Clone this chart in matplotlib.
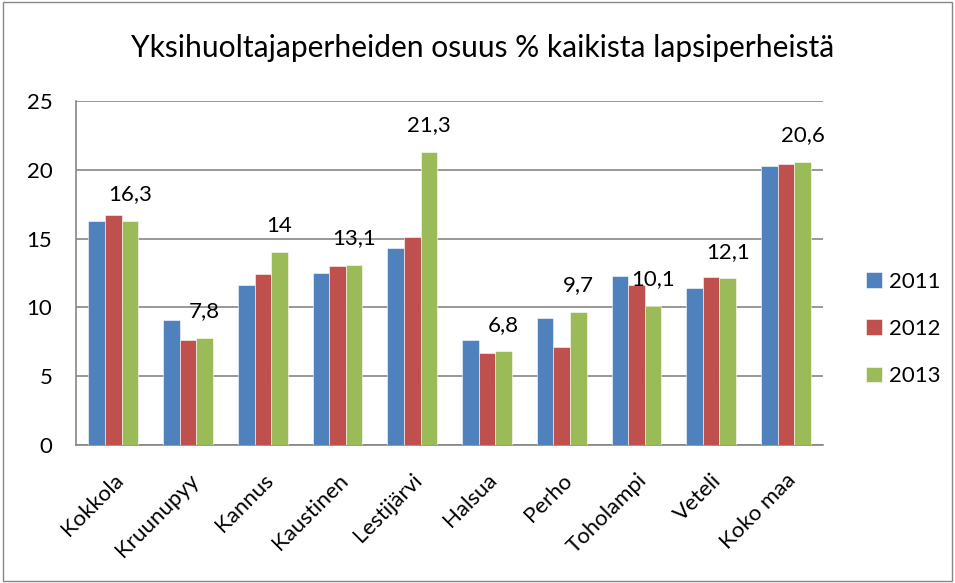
import numpy as np
import matplotlib
matplotlib.use("Agg")
import matplotlib.pyplot as plt
import matplotlib.transforms as mtransforms
from matplotlib.patches import Rectangle

plt.rcParams['font.family'] = ['Lato', 'DejaVu Sans']

# data
kunnat = ['Kokkola', 'Kruunupyy', 'Kannus', 'Kaustinen', 'Lestijärvi',
          'Halsua', 'Perho', 'Toholampi', 'Veteli', 'Koko maa']
v2011 = [16.3, 9.1, 11.6, 12.5, 14.3, 7.6, 9.2, 12.3, 11.4, 20.3]
v2012 = [16.7, 7.6, 12.4, 13.0, 15.1, 6.7, 7.1, 11.6, 12.2, 20.4]
v2013 = [16.3, 7.8, 14.0, 13.1, 21.3, 6.8, 9.7, 10.1, 12.1, 20.6]
vuodet = ['2011', '2012', '2013']
varit = ['#4f81bd', '#c0504d', '#9bbb59']

fig = plt.figure(figsize=(9.55, 5.83), dpi=100)
ax = fig.add_axes([0.0796, 0.2367, 0.7824, 0.5901])

# outer chart border
fig.patches.append(Rectangle((0.003, 0.003), 0.994, 0.994, transform=fig.transFigure,
                             fill=False, edgecolor='#868686', linewidth=1))

x = np.arange(len(kunnat))
w = 0.222
for i, (vals, lab, c) in enumerate(zip([v2011, v2012, v2013], vuodet, varit)):
    bars = ax.bar(x + (i - 1) * w, vals, w, color=c, label=lab,
                  edgecolor='white', linewidth=0.4, zorder=3)
    if i == 2:
        # data labels only for 2013
        for b, v in zip(bars, vals):
            txt = ('%.1f' % v).replace('.', ',')
            if txt.endswith(',0'):
                txt = txt[:-2]
            ax.annotate(txt, (b.get_x() + b.get_width() / 2, v), xytext=(0, 12),
                        textcoords='offset points', ha='center', va='bottom',
                        fontsize=16, zorder=4)

ax.set_xlim(-0.5, len(kunnat) - 0.5)
ax.set_ylim(0, 25)
ax.set_yticks([0, 5, 10, 15, 20, 25])
ax.yaxis.grid(True, color='#868686', linewidth=1.2, zorder=0)
ax.set_xticks(x)
ax.set_xticklabels(kunnat, rotation=45, ha='right', rotation_mode='anchor', fontsize=16)
shift = mtransforms.ScaledTranslation(5 / 100, 0, fig.dpi_scale_trans)
for t in ax.get_xticklabels():
    t.set_transform(t.get_transform() + shift)
ax.tick_params(axis='y', labelsize=16, length=0, pad=17)
ax.tick_params(axis='x', length=0, pad=18)
for s in ['top', 'right']:
    ax.spines[s].set_visible(False)
for s in ['left', 'bottom']:
    ax.spines[s].set_color('#868686')
    ax.spines[s].set_linewidth(1.2)

fig.suptitle('Yksihuoltajaperheiden osuus % kaikista lapsiperheistä',
             x=0.505, y=0.917, va='center', fontsize=21.6)

fig.legend(loc='center left', bbox_to_anchor=(0.9068, 0.4357), frameon=False,
           fontsize=16, handlelength=0.72, handleheight=0.72, labelspacing=1.23,
           handletextpad=0.3, borderpad=0, borderaxespad=0)

fig.savefig('out.png', dpi=100)
